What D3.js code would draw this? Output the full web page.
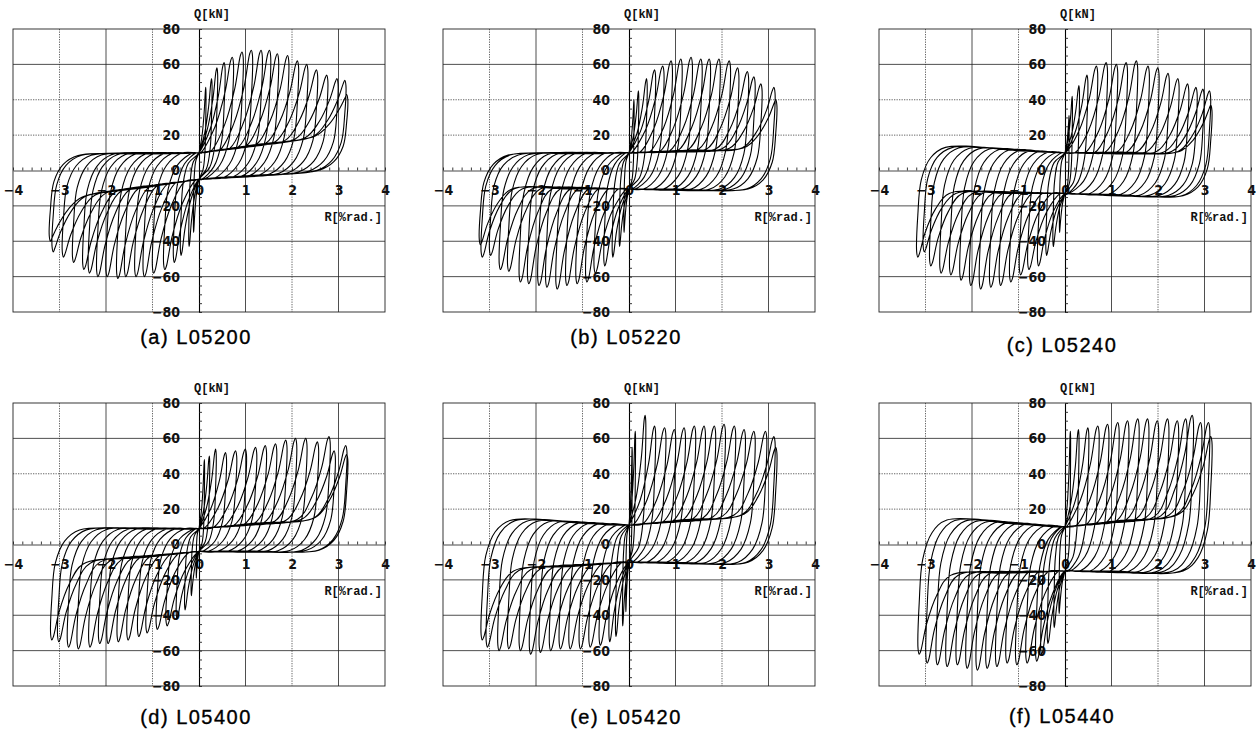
<!DOCTYPE html>
<html>
<head>
<meta charset="utf-8">
<script src="https://cdn.jsdelivr.net/npm/d3@7"></script>
<style>
  body { margin: 0; background: #fff; }
  svg { display: block; }
  .num { font-family: "Liberation Sans Narrow", "DejaVu Sans Condensed", sans-serif; font-stretch: condensed; font-weight: bold; font-size: 14px; fill: #111; }
  .axname { font-family: "Liberation Mono", "DejaVu Sans Mono", monospace; font-weight: bold; font-size: 12px; fill: #111; }
  .caption { font-family: "Liberation Sans", Arial, sans-serif; font-size: 20px; letter-spacing: 1.5px; fill: #000; stroke: #000; stroke-width: 0.35px; }
</style>
</head>
<body>
<svg id="chart" width="1256" height="731"></svg>
<script>
const panelTitles = ["(a) L05200", "(b) L05220", "(c) L05240", "(d) L05400", "(e) L05420", "(f) L05440"];
const xTicks = [-4, -3, -2, -1, 0, 1, 2, 3, 4];
const yTicks = [-80, -60, -40, -20, 0, 20, 40, 60, 80];
const xGrid = [-3, -2, -1, 1, 2, 3];
const yGrid = [-60, -40, -20, 20, 40, 60];

// peak of every cycle: R [%rad.], Q [kN]
const a_posR = [0.15, 0.28, 0.40, 0.56, 0.74, 0.95, 1.15, 1.36, 1.54, 1.71, 1.93, 2.14, 2.34, 2.55, 2.77, 2.99, 3.16, 3.20];
const a_posQ = [47, 52, 58, 61, 64, 67, 68, 68, 68, 66, 65, 62, 60, 57, 54, 52, 51, 43];
const a_negR = [-0.12, -0.22, -0.40, -0.55, -0.76, -1.00, -1.20, -1.38, -1.60, -1.77, -2.00, -2.20, -2.38, -2.50, -2.72, -2.94, -3.16, -3.22];
const a_negQ = [-35, -43, -48, -52, -56, -58, -60, -60, -60, -61, -60, -60, -58, -56, -52, -49, -46, -40];

const b_posR = [0.11, 0.21, 0.39, 0.57, 0.75, 0.93, 1.14, 1.36, 1.57, 1.75, 1.96, 2.18, 2.36, 2.57, 2.71, 2.86, 3.14, 3.18];
const b_posQ = [40, 45, 52, 57, 59, 62, 63, 64, 63, 63, 63, 62, 58, 56, 53, 49, 47, 40];
const b_negR = [-0.11, -0.21, -0.36, -0.54, -0.75, -0.93, -1.14, -1.36, -1.57, -1.79, -1.96, -2.18, -2.36, -2.61, -2.79, -3.00, -3.18, -3.22];
const b_negQ = [-35, -43, -49, -54, -58, -63, -64, -65, -67, -66, -65, -64, -63, -57, -56, -48, -49, -42];

const c_posR = [0.09, 0.16, 0.31, 0.49, 0.70, 0.91, 1.13, 1.34, 1.56, 1.81, 2.02, 2.24, 2.45, 2.66, 2.84, 2.99, 3.13, 3.16];
const c_posQ = [31, 42, 48, 54, 59, 61, 60, 61, 62, 59, 58, 55, 52, 49, 47, 46, 45, 37];
const c_negR = [-0.12, -0.26, -0.41, -0.59, -0.80, -0.98, -1.19, -1.41, -1.62, -1.84, -2.05, -2.26, -2.48, -2.69, -2.91, -3.05, -3.19];
const c_negQ = [-35, -43, -48, -54, -56, -59, -63, -65, -66, -67, -65, -62, -59, -58, -54, -46, -49];

const d_posR = [0.12, 0.23, 0.37, 0.59, 0.81, 1.02, 1.24, 1.45, 1.67, 1.89, 2.10, 2.32, 2.57, 2.82, 2.93, 3.18, 3.20];
const d_posQ = [48, 50, 54, 52, 53, 54, 55, 56, 57, 59, 60, 60, 58, 61, 53, 56, 51];
const d_negR = [-0.06, -0.17, -0.31, -0.49, -0.71, -0.92, -1.14, -1.32, -1.55, -1.76, -1.98, -2.16, -2.37, -2.62, -2.83, -3.04, -3.19];
const d_negQ = [-19, -29, -37, -42, -46, -48, -50, -52, -54, -55, -56, -56, -58, -59, -58, -55, -54];

const e_posR = [0.07, 0.14, 0.36, 0.57, 0.79, 1.00, 1.21, 1.43, 1.64, 1.86, 2.07, 2.29, 2.50, 2.71, 2.96, 3.14, 3.18];
const e_posQ = [55, 64, 73, 67, 66, 65, 66, 67, 67, 67, 68, 67, 65, 64, 64, 61, 55];
const e_negR = [-0.07, -0.14, -0.29, -0.43, -0.64, -0.86, -1.07, -1.29, -1.50, -1.71, -1.93, -2.14, -2.36, -2.61, -2.82, -3.07, -3.18];
const e_negQ = [-38, -46, -52, -55, -57, -58, -59, -59, -59, -60, -61, -62, -60, -59, -60, -58, -54];

const f_posR = [0.12, 0.30, 0.51, 0.73, 0.94, 1.16, 1.37, 1.59, 1.80, 2.01, 2.23, 2.44, 2.62, 2.76, 2.94, 3.11, 3.16];
const f_posQ = [64, 65, 66, 67, 68, 69, 70, 71, 71, 70, 71, 70, 71, 73, 69, 69, 61];
const f_negR = [-0.13, -0.24, -0.38, -0.52, -0.63, -0.84, -1.06, -1.27, -1.49, -1.70, -1.91, -2.13, -2.34, -2.56, -2.77, -2.99, -3.16];
const f_negQ = [-39, -47, -56, -62, -66, -67, -68, -67, -69, -70, -71, -70, -68, -69, -68, -67, -62];

// slip (pinching) levels at R = 0 and slope of the slip bands [kN per %rad.]
const pinchUpper = [10, 10, 10, 9, 11, 10];
const pinchLower = [-5, -10.5, -13, -4, -10, -15];
const loadSlopePos = [3.8, 1.2, 0.3, 2.5, 2.5, 3];
const returnSlopePos = [2, 0, -0.5, 0.3, 0, 0];
const loadSlopeNeg = [4, 0, 0, 2.8, 2, 1];
const returnSlopeNeg = [-0.6, -0.5, 1.2, -0.3, 1, 1.5];

const series = [
  { posR: a_posR, posQ: a_posQ, negR: a_negR, negQ: a_negQ },
  { posR: b_posR, posQ: b_posQ, negR: b_negR, negQ: b_negQ },
  { posR: c_posR, posQ: c_posQ, negR: c_negR, negQ: c_negQ },
  { posR: d_posR, posQ: d_posQ, negR: d_negR, negQ: d_negQ },
  { posR: e_posR, posQ: e_posQ, negR: e_negR, negQ: e_negQ },
  { posR: f_posR, posQ: f_posQ, negR: f_negR, negQ: f_negQ }
];

const colLeft = [13, 443, 879];
const rowTop = [29, 403];
const PANEL_W = 372;
const PANEL_H = 283;
const titleY = [344, 344, 352, 724, 724, 723];

// key points of one half cycle: slip band -> peak -> unloading -> back to the other slip level
function halfLoop(sign, amp, peak, band, ret, end) {
  const a = Math.abs(amp);
  const f = Math.min(1, a / 0.7);
  const pts = [];
  const xs = a - 0.7 * f;
  if (xs > 0.4) pts.push([xs / 2, band(xs / 2)]);
  if (xs > 0.02) pts.push([xs, band(xs)]);
  let x = a - 0.4 * f;
  pts.push([x, band(x) + 0.25 * (peak - band(x))]);
  x = a - 0.18 * f;
  pts.push([x, band(x) + 0.62 * (peak - band(x))]);
  pts.push([a - 0.06 * f, peak - 2 * sign]);
  pts.push([a - 0.025 * f, peak]);
  pts.push([a, peak - 3 * sign]);
  pts.push([a - 0.025 * f, 0.62 * peak + 0.38 * ret(a)]);
  x = a - 0.1 * f;
  pts.push([x, 0.3 * peak + 0.7 * ret(x)]);
  x = a - 0.3 * f;
  pts.push([x, 0.1 * peak + 0.9 * ret(x)]);
  const x3 = a - 0.62 * f;
  if (x3 > 0.05) pts.push([x3, ret(x3)]);
  if (x3 * 0.4 > 0.2) pts.push([x3 * 0.4, ret(x3 * 0.4)]);
  pts.push([0, end]);
  return pts.map(([m, q]) => [sign * m, q]);
}

function loopPoints(k) {
  const s = series[k];
  const u = pinchUpper[k], l = pinchLower[k];
  const pts = [[0, u]];
  const n = Math.max(s.posR.length, s.negR.length);
  for (let i = 0; i < n; i++) {
    if (i < s.posR.length) {
      pts.push(...halfLoop(1, s.posR[i], s.posQ[i],
        m => u + loadSlopePos[k] * m, m => l + returnSlopePos[k] * m, l));
    }
    if (i < s.negR.length) {
      pts.push(...halfLoop(-1, s.negR[i], s.negQ[i],
        m => l - loadSlopeNeg[k] * m, m => u + returnSlopeNeg[k] * m, u));
    }
  }
  return pts;
}

const svg = d3.select("#chart");

panelTitles.forEach((title, k) => {
  const left = colLeft[k % 3];
  const top = rowTop[Math.floor(k / 3)];

  const x = d3.scaleLinear().domain([-4, 4]).range([left, left + PANEL_W]);
  const y = d3.scaleLinear().domain([-80, 80]).range([top + PANEL_H, top]);

  const g = svg.append("g");

  // grid
  const dottedX = v => v === -3 || v === -1 || v === 2;
  const dottedY = v => v === 40 || v === 20;
  g.selectAll(".gx").data(xGrid).join("line")
    .attr("x1", d => x(d)).attr("x2", d => x(d))
    .attr("y1", y(80)).attr("y2", y(-80))
    .attr("stroke", d => dottedX(d) ? "#555" : "#222")
    .attr("stroke-width", d => dottedX(d) ? 0.9 : 0.8)
    .attr("stroke-dasharray", d => dottedX(d) ? "1.3,1.2" : null);
  g.selectAll(".gy").data(yGrid).join("line")
    .attr("x1", x(-4)).attr("x2", x(4))
    .attr("y1", d => y(d)).attr("y2", d => y(d))
    .attr("stroke", d => dottedY(d) ? "#555" : "#222")
    .attr("stroke-width", d => dottedY(d) ? 0.9 : 0.8)
    .attr("stroke-dasharray", d => dottedY(d) ? "1.3,1.2" : null);

  g.append("rect")
    .attr("x", x(-4)).attr("y", y(80))
    .attr("width", x(4) - x(-4)).attr("height", y(-80) - y(80))
    .attr("fill", "none").attr("stroke", "#222").attr("stroke-width", 0.9);

  // tick labels
  const xLab = g.append("g")
    .attr("transform", `translate(0,${y(0)})`)
    .call(d3.axisBottom(x).tickValues(xTicks).tickSize(0).tickPadding(15)
      .tickFormat(d => d < 0 ? "\u2212" + (-d) : String(d)));
  xLab.select(".domain").remove();
  xLab.selectAll("text").attr("class", "num");

  const yLab = g.append("g")
    .attr("transform", `translate(${x(0)},0)`)
    .call(d3.axisLeft(y).tickValues(yTicks).tickSize(0).tickPadding(19)
      .tickFormat(d => d < 0 ? "\u2212" + (-d) : String(d)));
  yLab.select(".domain").remove();
  yLab.selectAll("text").attr("class", "num");

  // axes with minor ticks
  const xAx = g.append("g")
    .attr("transform", `translate(0,${y(0)})`)
    .call(d3.axisTop(x).tickValues(d3.range(-4, 4.001, 0.2)).tickSize(3).tickSizeOuter(0).tickFormat(""));
  xAx.select(".domain").attr("stroke", "#333").attr("stroke-width", 0.9);
  xAx.selectAll(".tick line").attr("stroke", "#222").attr("stroke-width", 0.9);

  const yAx = g.append("g")
    .attr("transform", `translate(${x(0)},0)`)
    .call(d3.axisRight(y).tickValues(d3.range(-80, 80.001, 5)).tickSize(3).tickSizeOuter(0).tickFormat(""));
  yAx.select(".domain").attr("stroke", "#000").attr("stroke-width", 1.1);
  yAx.selectAll(".tick line").attr("stroke", "#222").attr("stroke-width", 0.9);

  g.append("text").attr("class", "axname")
    .attr("x", x(0) + 13).attr("y", y(80) - 11)
    .attr("text-anchor", "middle").text("Q[kN]");
  g.append("text").attr("class", "axname")
    .attr("x", x(4) - 3).attr("y", y(0) + 50)
    .attr("text-anchor", "end").text("R[%rad.]");

  // hysteresis loops
  const line = d3.line()
    .x(d => x(d[0]))
    .y(d => y(d[1]))
    .curve(d3.curveCatmullRom.alpha(0.5));
  g.append("path")
    .datum(loopPoints(k))
    .attr("d", line)
    .attr("fill", "none")
    .attr("stroke", "#000")
    .attr("stroke-width", 1.1)
    .attr("stroke-linejoin", "round");

  svg.append("text").attr("class", "caption")
    .attr("x", x(0) - 3).attr("y", titleY[k])
    .attr("text-anchor", "middle").text(title);
});
</script>
</body>
</html>
